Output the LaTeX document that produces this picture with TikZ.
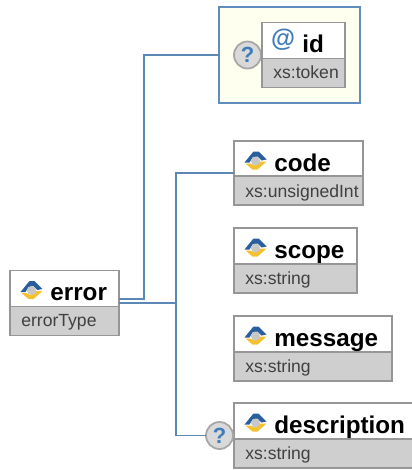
\documentclass[tikz,border=0pt]{standalone}
\usepackage{fontspec}
\setmainfont{Liberation Sans}
\usetikzlibrary{calc,positioning}
\definecolor{linkblue}{HTML}{5B87B5}
\definecolor{frameblue}{HTML}{5F8DBD}
\definecolor{framegray}{HTML}{969696}
\definecolor{bandgray}{HTML}{CFCFCF}
\definecolor{groupyellow}{HTML}{FFFFF0}
\definecolor{optgray}{HTML}{D9D9D9}
\definecolor{signblue}{HTML}{3F7CBB}
\definecolor{iconyellow}{HTML}{F4C22E}
\definecolor{iconblue}{HTML}{2A5F9E}
\tikzset{
	connector/.style={draw=linkblue, line width=1pt},
	elemframe/.style={draw=framegray, fill=white, line width=1pt, inner sep=0pt, outer sep=0pt},
	elemband/.style={draw=framegray, fill=bandgray, line width=1pt, inner sep=0pt, outer sep=0pt, minimum height=0.58cm, anchor=south},
	elemname/.style={anchor=base west, inner sep=0pt, font=\bfseries\fontsize{13.8}{14}\selectfont},
	elemtype/.style={anchor=base west, inner sep=0pt, text=black!75, font=\fontsize{10}{10}\selectfont},
	optsign/.style={circle, draw=black!35, fill=optgray, line width=1pt, minimum size=0.54cm, inner sep=0pt, outer sep=0pt, text=signblue, font=\bfseries\fontsize{12.5}{12}\selectfont},
	groupbox/.style={draw=frameblue, fill=groupyellow, line width=1pt, inner sep=0pt, outer sep=0pt, minimum width=2.83cm, minimum height=1.92cm}
}
\def\elembox(#1)(#2,#3,#4,#5)#6#7{
	\node[elemframe, minimum width=#4*0.02cm, minimum height=#5*0.02cm] (#1) at (#2,#3) {};
	\node[elemband, minimum width=#4*0.02cm] (#1-band) at (#1.south) {};
	\node[elemname] (#1-name) at ([shift={(40,30)}]#1.north west) {#6};
	\node[elemtype] (#1-type) at ([shift={(11,56)}]#1.north west) {#7};
}
\def\elemicon(#1){
	\begin{scope}[shift={([shift={(21.5,19.5)}]#1.north west)}]
		\fill[iconyellow] (-10,3) -- (-5,3) -- (-1,5) -- (5,1) -- (11,1) -- (2,9) -- (-3,9) -- cycle;
		\fill[iconblue] (-11,2) -- (-2,-9) -- (3,-9) -- (11,-1) -- (6,0) -- (2,-4) -- (-3,-3) -- (-6,2) -- cycle;
		\fill[black!22] (0,0.5) circle (4.5);
	\end{scope}
}

\begin{document}
\begin{tikzpicture}[x=0.02cm, y=-0.02cm]
	\useasboundingbox (0,0) rectangle (412,470);
	
	% attribute group
	\node[groupbox] (idgroup) at (289.5,55) {};
	\node[optsign] (idopt) at (247.5,55) {?};
	\elembox(id)(303.5,55,83,65){id}{xs:token}
	\node[inner sep=0pt, text=signblue, font=\bfseries\fontsize{14}{14}\selectfont] (id-sign) at ([shift={(21,17)}]id.north west) {@};
	
	% elements
	\elembox(error)(64.5,303,109,65){error}{errorType}
	\elemicon(error)
	\elembox(code)(298.5,173,129,64){code}{xs:unsignedInt}
	\elemicon(code)
	\elembox(scope)(295.5,260.5,123,65){scope}{xs:string}
	\elemicon(scope)
	\elembox(message)(313,348.5,158,65){message}{xs:string}
	\elemicon(message)
	\elembox(description)(324,435.5,180,65){description}{xs:string}
	\elemicon(description)
	\node[optsign] (descopt) at (219.5,435.5) {?};
	
	% links
	\coordinate (idtrunk) at (144,180);
	\coordinate (trunk) at (176,303);
	\draw[connector] ([yshift=0.08cm]error.east) -| (idtrunk) |- (idgroup.west);
	\draw[connector] (error.east) -- (trunk);
	\draw[connector] (code.west) -| (trunk);
	\draw[connector] (trunk) |- (descopt.west);
\end{tikzpicture}
\end{document}
